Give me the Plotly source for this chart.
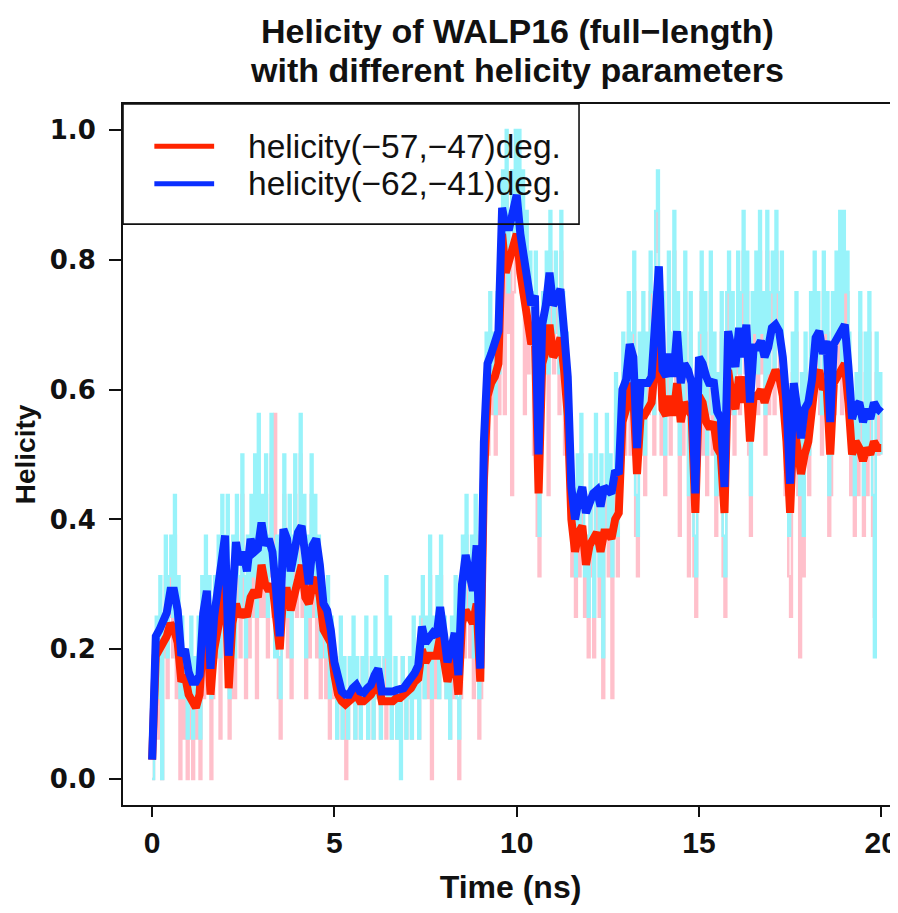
import numpy as np
import plotly.graph_objects as go

# ---------------- data ----------------
n_residues = 16
time_raw = np.round(np.arange(401) * 0.05, 2)   # ns
time_avg = np.round(np.arange(201) * 0.1, 1)    # ns

# helical residues per frame (out of 16), helicity(-57,-47)
raw_5747_res = [
    0, 1, 3, 1, 4, 0, 3, 5, 2, 4, 5, 3, 6, 2, 4, 0, 3, 1, 2, 0,
    1, 3, 0, 2, 1, 3, 0, 4, 2, 5, 3, 4, 0, 2, 4, 3, 5, 1, 6, 4,
    5, 6, 1, 2, 5, 2, 6, 4, 3, 7, 4, 2, 5, 3, 6, 4, 7, 2, 6, 4,
    6, 4, 7, 3, 5, 8, 4, 9, 5, 2, 1, 4, 7, 5, 3, 6, 2, 5, 7, 4,
    5, 8, 4, 6, 2, 5, 3, 7, 4, 6, 3, 5, 2, 4, 3, 2, 4, 1, 3, 2,
    2, 1, 2, 3, 1, 2, 0, 1, 3, 2, 3, 1, 2, 2, 1, 3, 2, 3, 1, 2,
    2, 1, 3, 2, 2, 1, 2, 3, 1, 2, 3, 1, 2, 2, 1, 2, 1, 3, 2, 1,
    2, 2, 1, 3, 2, 2, 1, 3, 4, 2, 3, 2, 5, 0, 3, 2, 4, 2, 5, 3,
    3, 2, 2, 1, 3, 2, 4, 2, 0, 2, 5, 3, 6, 4, 3, 5, 2, 6, 4, 1,
    2, 5, 8, 10, 8, 11, 9, 10, 8, 11, 9, 12, 14, 9, 15, 11, 13, 7, 12, 15,
    13, 15, 12, 14, 9, 13, 10, 12, 11, 8, 12, 6, 5, 9, 11, 10, 12, 7, 13, 11,
    10, 12, 11, 9, 13, 11, 8, 10, 9, 7, 5, 6, 4, 7, 5, 8, 6, 4, 5, 3,
    7, 5, 3, 8, 6, 4, 7, 2, 6, 8, 5, 7, 2, 6, 9, 5, 7, 8, 10, 8,
    9, 11, 8, 10, 12, 6, 5, 10, 8, 11, 7, 10, 9, 12, 11, 8, 13, 14, 10, 8,
    11, 7, 9, 12, 8, 10, 13, 9, 11, 6, 10, 8, 12, 9, 5, 11, 8, 5, 4, 9,
    10, 12, 8, 11, 7, 9, 12, 8, 10, 6, 9, 7, 11, 5, 4, 11, 12, 9, 11, 8,
    10, 12, 9, 11, 13, 10, 12, 8, 6, 11, 10, 12, 9, 13, 10, 11, 8, 13, 9, 11,
    12, 9, 13, 11, 10, 12, 9, 7, 8, 5, 4, 10, 8, 11, 7, 3, 9, 5, 10, 8,
    7, 11, 9, 12, 10, 11, 9, 8, 12, 10, 11, 6, 7, 11, 9, 12, 10, 13, 9, 13,
    11, 12, 10, 7, 8, 6, 9, 7, 11, 8, 6, 10, 7, 11, 8, 6, 4, 10, 8, 9,
    8,
]

# helical residues per frame (out of 16), helicity(-62,-41)
raw_6241_res = [
    0, 1, 4, 2, 5, 0, 4, 6, 3, 5, 6, 4, 7, 3, 5, 2, 4, 2, 3, 1,
    2, 4, 1, 3, 2, 4, 1, 5, 3, 6, 4, 5, 2, 3, 5, 4, 6, 3, 7, 5,
    6, 7, 2, 4, 6, 3, 7, 5, 4, 8, 5, 3, 6, 4, 7, 5, 8, 4, 9, 5,
    7, 5, 8, 4, 6, 9, 5, 3, 6, 3, 2, 5, 8, 6, 4, 7, 3, 6, 8, 5,
    6, 9, 5, 7, 3, 6, 4, 8, 5, 7, 4, 6, 3, 5, 4, 3, 5, 2, 4, 3,
    3, 1, 2, 4, 1, 3, 2, 1, 3, 2, 4, 1, 3, 2, 1, 3, 2, 4, 1, 2,
    3, 1, 4, 2, 3, 1, 2, 3, 5, 2, 4, 1, 2, 3, 1, 2, 0, 3, 2, 1,
    2, 3, 1, 4, 2, 3, 1, 4, 5, 2, 4, 3, 6, 2, 4, 3, 5, 2, 6, 3,
    4, 2, 3, 1, 4, 3, 5, 2, 1, 3, 6, 4, 7, 5, 4, 6, 3, 7, 5, 2,
    3, 6, 9, 11, 9, 12, 10, 11, 9, 12, 10, 13, 15, 13, 16, 12, 14, 15, 13, 16,
    14, 16, 13, 15, 12, 14, 11, 13, 12, 10, 13, 8, 6, 10, 12, 11, 13, 10, 14, 12,
    11, 13, 12, 10, 14, 12, 9, 11, 10, 8, 6, 7, 5, 8, 6, 9, 7, 5, 6, 4,
    8, 6, 4, 9, 7, 5, 8, 3, 7, 9, 6, 8, 5, 7, 10, 6, 8, 9, 11, 9,
    10, 12, 9, 11, 13, 7, 6, 11, 9, 12, 8, 11, 10, 13, 12, 9, 14, 15, 11, 9,
    12, 8, 10, 13, 9, 11, 14, 10, 12, 8, 11, 9, 13, 10, 7, 12, 9, 6, 5, 10,
    11, 13, 9, 12, 8, 10, 13, 9, 11, 7, 10, 8, 12, 6, 5, 12, 13, 10, 12, 9,
    11, 13, 10, 12, 14, 11, 13, 9, 7, 12, 11, 13, 10, 14, 11, 12, 9, 14, 10, 12,
    13, 10, 14, 12, 11, 13, 10, 8, 9, 6, 7, 11, 9, 12, 8, 7, 10, 6, 11, 9,
    8, 12, 10, 13, 11, 12, 10, 9, 13, 11, 12, 7, 8, 12, 10, 13, 11, 14, 10, 14,
    12, 13, 11, 8, 9, 7, 10, 8, 12, 9, 7, 11, 8, 12, 9, 7, 3, 11, 9, 10,
    8,
]

# running-average helicity, helicity(-57,-47)
avg_5747 = [
    0.03, 0.19, 0.20, 0.21, 0.22, 0.24, 0.23, 0.21, 0.15, 0.16,
    0.13, 0.12, 0.11, 0.13, 0.22, 0.24, 0.13, 0.20, 0.23, 0.26,
    0.33, 0.14, 0.24, 0.27, 0.25, 0.26, 0.25, 0.28, 0.29, 0.28,
    0.33, 0.30, 0.29, 0.30, 0.25, 0.20, 0.29, 0.29, 0.26, 0.28,
    0.31, 0.33, 0.28, 0.27, 0.30, 0.31, 0.28, 0.23, 0.22, 0.21,
    0.16, 0.13, 0.12, 0.115, 0.12, 0.125, 0.13, 0.12, 0.12, 0.125,
    0.13, 0.14, 0.15, 0.12, 0.12, 0.12, 0.12, 0.125, 0.125, 0.13,
    0.135, 0.14, 0.15, 0.155, 0.20, 0.18, 0.19, 0.19, 0.19, 0.22,
    0.19, 0.15, 0.17, 0.19, 0.13, 0.24, 0.26, 0.25, 0.24, 0.27,
    0.15, 0.46, 0.59, 0.61, 0.62, 0.64, 0.84, 0.78, 0.80, 0.83,
    0.84, 0.78, 0.74, 0.70, 0.67, 0.68, 0.44, 0.64, 0.66, 0.70,
    0.65, 0.66, 0.68, 0.63, 0.56, 0.40, 0.35, 0.38, 0.39, 0.33,
    0.36, 0.37, 0.38, 0.35, 0.38, 0.38, 0.37, 0.40, 0.41, 0.55,
    0.57, 0.61, 0.59, 0.47, 0.56, 0.56, 0.57, 0.58, 0.64, 0.72,
    0.57, 0.56, 0.59, 0.56, 0.61, 0.55, 0.58, 0.57, 0.56, 0.41,
    0.59, 0.58, 0.55, 0.54, 0.55, 0.51, 0.50, 0.41, 0.63, 0.59,
    0.57, 0.62, 0.58, 0.62, 0.52, 0.59, 0.59, 0.60, 0.58, 0.60,
    0.62, 0.63, 0.62, 0.59, 0.52, 0.41, 0.55, 0.51, 0.47, 0.50,
    0.52, 0.57, 0.62, 0.63, 0.60, 0.61, 0.50, 0.61, 0.62, 0.63,
    0.64, 0.58, 0.50, 0.52, 0.51, 0.49, 0.51, 0.50, 0.52, 0.51,
    0.51,
]

# running-average helicity, helicity(-62,-41)
avg_6241 = [
    0.03, 0.22, 0.23, 0.24, 0.256, 0.29, 0.29, 0.26, 0.19, 0.20,
    0.165, 0.15, 0.15, 0.16, 0.255, 0.29, 0.17, 0.25, 0.29, 0.33,
    0.375, 0.19, 0.30, 0.365, 0.33, 0.35, 0.32, 0.37, 0.35, 0.355,
    0.395, 0.36, 0.37, 0.35, 0.29, 0.22, 0.385, 0.37, 0.32, 0.35,
    0.38, 0.39, 0.33, 0.30, 0.36, 0.37, 0.33, 0.27, 0.26, 0.23,
    0.18, 0.15, 0.135, 0.13, 0.13, 0.14, 0.145, 0.135, 0.133, 0.14,
    0.145, 0.16, 0.17, 0.135, 0.135, 0.133, 0.135, 0.137, 0.14, 0.14,
    0.148, 0.155, 0.163, 0.175, 0.235, 0.21, 0.22, 0.225, 0.22, 0.265,
    0.225, 0.18, 0.20, 0.225, 0.16, 0.30, 0.345, 0.32, 0.29, 0.36,
    0.17, 0.52, 0.64, 0.655, 0.67, 0.69, 0.88, 0.85, 0.85, 0.88,
    0.90, 0.84, 0.80, 0.76, 0.73, 0.745, 0.50, 0.70, 0.73, 0.78,
    0.73, 0.74, 0.755, 0.69, 0.62, 0.45, 0.40, 0.43, 0.45, 0.41,
    0.425, 0.44, 0.445, 0.42, 0.45, 0.445, 0.44, 0.475, 0.47, 0.60,
    0.615, 0.67, 0.65, 0.51, 0.61, 0.61, 0.61, 0.62, 0.70, 0.79,
    0.63, 0.62, 0.655, 0.62, 0.69, 0.61, 0.64, 0.63, 0.61, 0.44,
    0.65, 0.64, 0.62, 0.607, 0.615, 0.566, 0.555, 0.45, 0.69, 0.665,
    0.635, 0.695, 0.65, 0.70, 0.58, 0.665, 0.665, 0.675, 0.65, 0.665,
    0.695, 0.70, 0.69, 0.65, 0.58, 0.455, 0.61, 0.57, 0.525, 0.57,
    0.58, 0.615, 0.68, 0.69, 0.655, 0.675, 0.55, 0.67, 0.68, 0.695,
    0.70, 0.635, 0.555, 0.575, 0.58, 0.55, 0.57, 0.555, 0.58, 0.57,
    0.565,
]

series_names = ["helicity(−57,−47)deg.", "helicity(−62,−41)deg."]
x_ticks = [0, 5, 10, 15, 20]
y_ticks = [0.0, 0.2, 0.4, 0.6, 0.8, 1.0]
y_ticktext = ["0.0", "0.2", "0.4", "0.6", "0.8", "1.0"]

assert len(raw_5747_res) == len(time_raw)
assert len(raw_6241_res) == len(time_raw)
assert len(avg_5747) == len(time_avg)
assert len(avg_6241) == len(time_avg)

raw_5747 = [v / n_residues for v in raw_5747_res]
raw_6241 = [v / n_residues for v in raw_6241_res]

# ---------------- styles ----------------
PINK = "#FFC0CB"
CYAN = "#98F3FA"
RED = "#FF2400"
BLUE = "#0A2EFF"
SANS = "Liberation Sans, Arial, sans-serif"

fig = go.Figure()
fig.add_trace(go.Scatter(x=time_raw, y=raw_5747, mode="lines",
                         line=dict(color=PINK, width=2.5, shape="hv"), showlegend=False,
                         name=series_names[0] + " raw"))
fig.add_trace(go.Scatter(x=time_raw, y=raw_6241, mode="lines",
                         line=dict(color=CYAN, width=2.5, shape="hv"), showlegend=False,
                         name=series_names[1] + " raw"))
fig.add_trace(go.Scatter(x=time_avg, y=avg_5747, mode="lines",
                         line=dict(color=RED, width=8), showlegend=False,
                         name=series_names[0]))
fig.add_trace(go.Scatter(x=time_avg, y=avg_6241, mode="lines",
                         line=dict(color=BLUE, width=8), showlegend=False,
                         name=series_names[1]))

# legend drawn R-style (transparent box inside the top-left corner)
leg_x0, leg_x1, leg_y0, leg_y1 = -0.8, 11.71, 0.855, 1.04
fig.add_shape(type="rect", xref="x", yref="y", x0=leg_x0, x1=leg_x1,
              y0=leg_y0, y1=leg_y1, line=dict(color="#111", width=1.6),
              fillcolor="rgba(0,0,0,0)", layer="above")
for name, col, yy in [(series_names[0], RED, 0.975), (series_names[1], BLUE, 0.917)]:
    fig.add_shape(type="line", xref="x", yref="y", x0=0.06, x1=1.70, y0=yy, y1=yy,
                  line=dict(color=col, width=5), layer="above")
    fig.add_annotation(x=2.58, y=yy, xref="x", yref="y", text=name, showarrow=False,
                       xanchor="left", yanchor="middle",
                       font=dict(family=SANS, size=33.5, color="#111"))

# two-line bold title
for txt, yy in [("Helicity of WALP16 (full−length)", 1.104),
                ("with different helicity parameters", 1.048)]:
    fig.add_annotation(x=0.5084, y=yy, xref="paper", yref="paper", text=txt,
                       showarrow=False, xanchor="center", yanchor="middle",
                       font=dict(family=SANS, size=34, color="#111", weight="bold"))

# the page body adds an 8 px offset, so the figure is 8 px smaller than the window
fig.update_layout(
    width=890, height=905,
    margin=dict(l=115, r=0, t=96, b=108, autoexpand=False),
    paper_bgcolor="white", plot_bgcolor="white",
    showlegend=False,
    xaxis=dict(range=[-0.8, 20.46], tickvals=x_ticks, ticks="outside", ticklen=10,
               tickwidth=1.5, tickcolor="#111", showline=True, mirror=True,
               linecolor="#111", linewidth=2, showgrid=False, zeroline=False,
               tickfont=dict(family=SANS, size=30, color="#111", weight="bold"),
               title=dict(text="Time (ns)", standoff=18,
                          font=dict(family=SANS, size=32, color="#111", weight="bold"))),
    yaxis=dict(range=[-0.04, 1.04], tickvals=y_ticks, ticktext=y_ticktext,
               ticks="outside", ticklen=12, tickwidth=1.5, tickcolor="#111",
               ticklabelstandoff=8,
               showline=True, mirror=False, linecolor="#111", linewidth=2,
               showgrid=False, zeroline=False,
               tickfont=dict(family="DejaVu Sans, sans-serif", size=26, color="#111",
                             weight="bold"),
               title=dict(text="Helicity", standoff=6,
                          font=dict(family=SANS, size=28, color="#111", weight="bold"))),
)

fig.write_html("out.html")
